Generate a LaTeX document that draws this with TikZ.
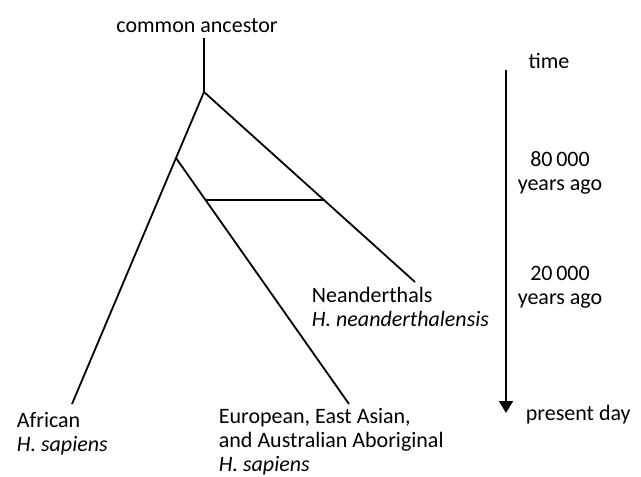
\documentclass[tikz,border=0pt]{standalone}
\usepackage{fontspec}
\setmainfont{Carlito}
\usetikzlibrary{arrows.meta,positioning}

\begin{document}
\begin{tikzpicture}[x=1pt,y=-1pt,line width=1.8pt,>={Triangle[width=14pt,length=12pt]},
  font=\fontsize{22}{24}\selectfont,
  lbl/.style={inner sep=0pt,align=left,anchor=base west},
  tlbl/.style={inner sep=0pt,align=center,anchor=base}]
  \useasboundingbox (0,0) rectangle (641,477);
  % branching tree
  \node[tlbl] (anc) at (197,32) {common ancestor};
  \coordinate (top) at (204,38);
  \coordinate (root) at (204,92);
  \coordinate (split) at (176,158);
  \coordinate (afr) at (72,404);
  \coordinate (eur) at (349,404);
  \coordinate (nea) at (415,282);
  \coordinate (mixl) at (206,200);
  \coordinate (mixr) at (325,200);
  \draw (top) -- (root);
  \draw (root) -- (split) -- (afr);
  \draw (split) -- (eur);
  \draw (root) -- (nea);
  \draw (mixl) -- (mixr);
  % leaf labels (base = last line)
  \node[lbl] (african) at (16,451) {African\\\textit{H. sapiens}};
  \node[lbl] (euro) at (218,471) {European, East Asian,\\and Australian Aboriginal\\\textit{H. sapiens}};
  \node[lbl] (neand) at (311,326) {Neanderthals\\\textit{H. neanderthalensis}};
  % time axis
  \node[tlbl] (time) at (549,68) {time};
  \coordinate (tstart) at (506,70);
  \coordinate (tend) at (506,413);
  \draw[->] (tstart) -- (tend);
  \node[tlbl] (t80) at (560,190) {80\,000\\years ago};
  \node[tlbl] (t20) at (560,304) {20\,000\\years ago};
  \node[lbl] (present) at (525,420) {present day};
\end{tikzpicture}
\end{document}
